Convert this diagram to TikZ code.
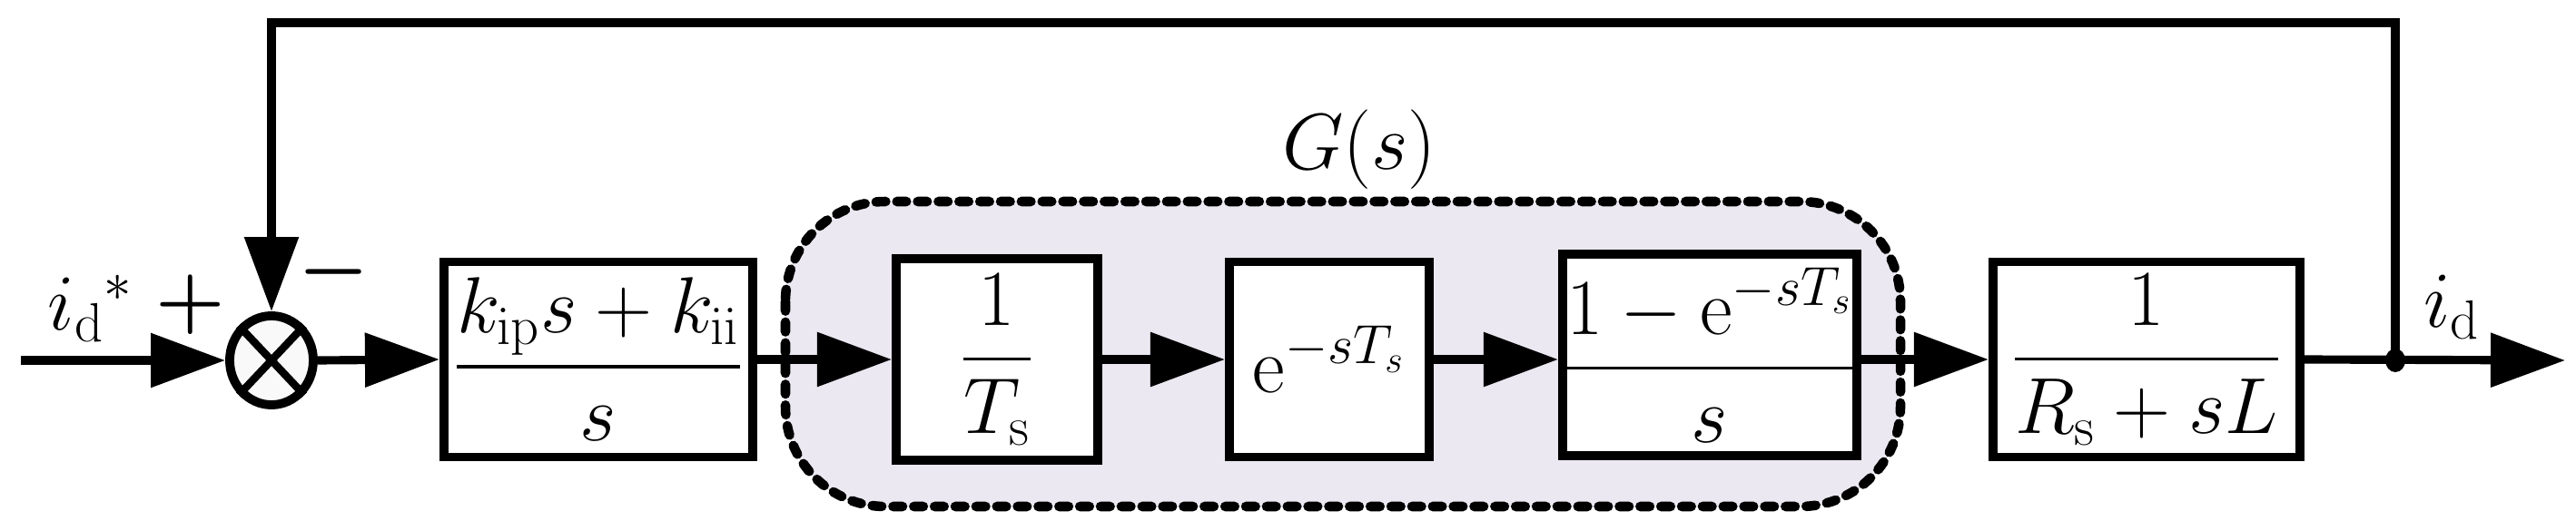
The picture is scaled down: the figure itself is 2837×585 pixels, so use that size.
\documentclass[tikz,border=0pt]{standalone}
\usepackage{amsmath,bm}
\usetikzlibrary{arrows.meta,shapes.geometric}
\definecolor{gfill}{RGB}{235,232,241}
\begin{document}
\begin{tikzpicture}[x=0.01cm,y=-0.01cm,line width=2.6pt,
  font=\fontsize{24}{28}\selectfont,
  blk/.style={draw,line width=2.8pt,fill=white,inner sep=0pt,minimum height=2.15cm},
  sig/.style={-{Triangle[length=0.82cm,width=0.58cm]}},
  lbl/.style={inner sep=0pt}]
\useasboundingbox (0,0) rectangle (2837,585);
\draw[fill=gfill,dash pattern=on 3pt off 3.5pt,line width=3pt,line cap=round,rounded corners=1.1cm] (865,222) rectangle (2093,558);
\node[lbl] (G) at (1497,165) {$G(s)$};
\node[draw,ellipse,line width=2.8pt,fill=gray!5,minimum width=0.92cm,minimum height=0.98cm,inner sep=0pt] (sum) at (299,397) {};
\draw[line width=2.4pt] (sum.north west)--(sum.south east) (sum.north east)--(sum.south west);
\node[blk,minimum width=3.4cm] (b1) at (659,396) {$\displaystyle\frac{k_{\mathrm{ip}}s+k_{\mathrm{ii}}}{s}$};
\node[blk,minimum width=2.22cm,minimum height=2.22cm] (b2) at (1098,396) {$\displaystyle\frac{1}{T_{\mathrm{s}}}$};
\node[blk,minimum width=2.2cm] (b3) at (1464,396) {$\mathrm{e}^{-sT_s}$};
\node[blk,minimum width=3.16cm,minimum height=2.22cm] (b4) at (1883,391) {$\displaystyle\frac{1-\mathrm{e}^{-sT_s}}{s}$};
\node[blk,minimum width=3.38cm] (b5) at (2364,396) {$\displaystyle\frac{1}{R_{\mathrm{s}}+sL}$};
\coordinate (in) at (23,397);
\coordinate (j) at (2638,397);
\coordinate (out) at (2825,397);
\coordinate (tr) at (2638,25);
\coordinate (tl) at (299,25);
\draw[sig] (in) -- (sum.west);
\draw[sig] (sum.east) -- (b1.west);
\draw[sig] (b1.east) -- (b2.west);
\draw[sig] (b2.east) -- (b3.west);
\draw[sig] (b3.east) -- (b4.west |- b3.east);
\draw[sig] (b4.east |- b5.west) -- (b5.west);
\draw[sig] (b5.east) -- (out);
\draw[sig] (j) -- (tr) -- (tl) -- (sum.north);
\fill (j) ellipse (0.11cm and 0.13cm);
\node[lbl] (ref) at (100,340) {$i_{\mathrm{d}}{}^{*}$};
\node[lbl] (plus) at (210,336) {$\bm{+}$};
\node[lbl] (minus) at (368,300) {$\bm{-}$};
\node[lbl] (id) at (2700,338) {$i_{\mathrm{d}}$};
\end{tikzpicture}
\end{document}
